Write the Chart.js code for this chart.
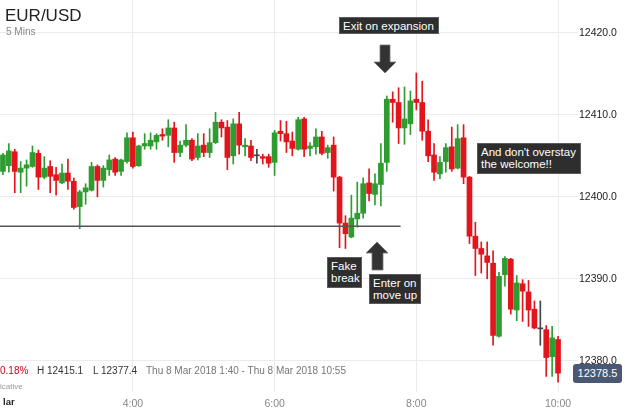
<!DOCTYPE html>
<html>
<head>
<meta charset="utf-8">
<script src="https://cdn.jsdelivr.net/npm/chart.js@4.4.1/dist/chart.umd.min.js"></script>
<style>
body { margin: 0; background: #fff; font-family: "Liberation Sans", Arial, sans-serif; }
#wrap { position: relative; width: 625px; height: 411px; overflow: hidden; }
canvas { position: absolute; left: 0; top: 0; }
.txt { position: absolute; white-space: nowrap; }
.note { position: absolute; background: #2e2e2e; border: 1px solid #5c5c5c; color: #fff; font-size: 11.5px; line-height: 12px; padding: 2px 3px 0 3px; box-sizing: border-box; white-space: nowrap; }
</style>
</head>
<body>
<div id="wrap">
<canvas id="chart" width="625" height="411"></canvas>

<div class="txt" style="left:5px;top:7px;font-size:17px;line-height:17px;color:#222">EUR/USD</div>
<div class="txt" style="left:6px;top:27px;font-size:10px;line-height:10px;color:#888">5 Mins</div>

<div class="txt" style="left:0;top:366px;font-size:10px;line-height:10px;color:#d0021b">0.18%</div>
<div class="txt" style="left:37px;top:366px;font-size:10px;line-height:10px;color:#333">H 12415.1</div>
<div class="txt" style="left:93px;top:366px;font-size:10px;line-height:10px;color:#333">L 12377.4</div>
<div class="txt" style="left:146px;top:366px;font-size:10px;line-height:10px;color:#777">Thu 8 Mar 2018 1:40 - Thu 8 Mar 2018 10:55</div>
<div class="txt" style="left:0;top:383px;font-size:8px;line-height:8px;color:#999">icative</div>
<div class="txt" style="left:3px;top:397px;font-size:9.5px;line-height:10px;color:#222;font-weight:bold">lar</div>

<div class="note" style="left:339px;top:17px;width:100px;height:17px;padding-top:2px">Exit on expansion</div>
<div class="note" style="left:477px;top:143px;width:104px;height:31px">And don't overstay<br>the welcome!!</div>
<div class="note" style="left:327px;top:257px;width:35px;height:31px">Fake<br>break</div>
<div class="note" style="left:369px;top:274px;width:52px;height:30px">Enter on<br>move up</div>

<svg style="position:absolute;left:0;top:0" width="625" height="411">
  <polygon points="380,45 390,45 390,62 396,62 385,73 374,62 380,62" fill="#333" stroke="#777" stroke-width="0.8"/>
  <polygon points="377,242 388,253 383,253 383,270 372,270 372,253 366,253" fill="#333" stroke="#777" stroke-width="0.8"/>
</svg>

<div class="txt" style="left:573px;top:364px;width:49px;height:19px;line-height:19px;background:#4a5873;border-radius:3px;color:#fff;font-size:11px;text-align:center">12378.5</div>
</div>

<script>
// 5 minute candles, 2:10 to 10:00
const timeLabels = [
    "2:10","2:15","2:20","2:25","2:30","2:35","2:40","2:45","2:50","2:55",
    "3:00","3:05","3:10","3:15","3:20","3:25","3:30","3:35","3:40","3:45","3:50","3:55",
    "4:00","4:05","4:10","4:15","4:20","4:25","4:30","4:35","4:40","4:45","4:50","4:55",
    "5:00","5:05","5:10","5:15","5:20","5:25","5:30","5:35","5:40","5:45","5:50","5:55",
    "6:00","6:05","6:10","6:15","6:20","6:25","6:30","6:35","6:40","6:45","6:50","6:55",
    "7:00","7:05","7:10","7:15","7:20","7:25","7:30","7:35","7:40","7:45","7:50","7:55",
    "8:00","8:05","8:10","8:15","8:20","8:25","8:30","8:35","8:40","8:45","8:50","8:55",
    "9:00","9:05","9:10","9:15","9:20","9:25","9:30","9:35","9:40","9:45","9:50","9:55",
    "10:00"
];

const opens = [
    12403.1, 12403.8, 12405.5, 12403.0, 12403.5, 12403.7, 12405.3, 12402.4, 12403.7, 12402.7,
    12401.7, 12402.9, 12401.9, 12398.8, 12400.6, 12400.8, 12403.7, 12402.0, 12403.3, 12404.6,
    12403.1, 12404.3, 12407.2, 12403.8, 12406.2, 12406.2, 12406.7, 12407.6, 12407.5, 12408.4,
    12405.4, 12406.3, 12406.9, 12404.8, 12406.3, 12405.4, 12406.6, 12409.1, 12408.5, 12405.0,
    12408.9, 12406.1, 12406.2, 12405.0, 12404.9, 12404.9, 12404.2, 12408.0, 12407.7, 12406.8,
    12405.8, 12409.5, 12405.9, 12406.1, 12407.3, 12405.4, 12406.3, 12402.4, 12396.8, 12395.1,
    12397.3, 12398.0, 12401.7, 12400.3, 12401.5, 12404.2, 12411.9, 12411.5, 12408.4, 12408.9,
    12411.9, 12411.5, 12408.0, 12405.1, 12402.8, 12404.3, 12406.1, 12403.5, 12407.2, 12402.4,
    12395.2, 12393.7, 12392.8, 12391.9, 12383.0, 12390.5, 12392.4, 12386.2, 12389.4, 12388.4,
    12386.3, 12383.9, 12383.8, 12380.5, 12382.6
];
const highs = [
    12405.3, 12406.5, 12405.8, 12404.3, 12404.5, 12406.2, 12405.7, 12404.9, 12404.4, 12403.6,
    12404.0, 12404.6, 12402.3, 12400.8, 12401.6, 12404.2, 12403.9, 12403.8, 12405.1, 12404.8,
    12404.6, 12407.8, 12407.9, 12406.3, 12407.7, 12407.8, 12407.7, 12408.3, 12409.4, 12409.1,
    12406.8, 12408.8, 12407.1, 12407.7, 12407.7, 12408.3, 12410.3, 12409.4, 12409.3, 12409.5,
    12410.3, 12407.1, 12406.9, 12405.8, 12405.2, 12405.2, 12408.1, 12409.3, 12409.2, 12407.9,
    12409.7, 12409.7, 12406.6, 12408.3, 12408.0, 12406.3, 12407.3, 12402.5, 12397.7, 12400.2,
    12401.8, 12402.3, 12403.4, 12402.8, 12406.5, 12412.3, 12412.8, 12413.3, 12413.4, 12412.9,
    12415.1, 12414.1, 12409.4, 12406.5, 12404.9, 12406.5, 12408.5, 12408.8, 12408.8, 12402.5,
    12396.9, 12394.5, 12394.5, 12393.4, 12390.8, 12392.7, 12392.5, 12390.4, 12389.9, 12389.8,
    12387.3, 12387.3, 12384.3, 12384.2, 12383.0
];
const lows = [
    12402.7, 12403.0, 12400.5, 12400.5, 12401.3, 12403.6, 12400.9, 12402.2, 12400.5, 12400.2,
    12401.6, 12400.9, 12398.5, 12396.1, 12399.1, 12400.7, 12400.0, 12401.2, 12402.6, 12402.6,
    12402.6, 12404.1, 12403.5, 12403.7, 12405.8, 12405.8, 12405.8, 12406.9, 12406.1, 12404.2,
    12404.9, 12406.1, 12404.4, 12404.5, 12404.9, 12404.8, 12406.5, 12407.3, 12403.3, 12404.0,
    12405.2, 12405.0, 12404.4, 12404.1, 12404.0, 12403.6, 12402.6, 12406.8, 12405.4, 12405.0,
    12405.7, 12404.9, 12405.0, 12405.2, 12405.1, 12404.7, 12400.7, 12393.8, 12393.7, 12395.0,
    12396.3, 12397.4, 12399.5, 12399.0, 12398.9, 12403.1, 12409.1, 12406.5, 12406.4, 12407.6,
    12410.6, 12406.9, 12404.3, 12402.0, 12402.2, 12403.0, 12403.1, 12403.4, 12401.6, 12394.3,
    12390.4, 12390.7, 12390.0, 12381.9, 12382.9, 12389.1, 12385.7, 12384.9, 12384.8, 12384.2,
    12383.9, 12381.9, 12378.1, 12378.1, 12377.4
];
const closes = [
    12405.1, 12405.6, 12403.1, 12403.5, 12403.9, 12405.4, 12402.4, 12403.5, 12402.5, 12402.0,
    12402.9, 12401.9, 12398.7, 12400.6, 12401.1, 12403.7, 12402.0, 12403.5, 12404.5, 12403.0,
    12404.5, 12407.2, 12403.7, 12406.2, 12406.5, 12406.9, 12407.5, 12407.4, 12408.4, 12405.4,
    12406.3, 12406.9, 12404.6, 12406.2, 12405.4, 12406.6, 12409.1, 12408.4, 12404.8, 12408.9,
    12406.3, 12406.3, 12404.8, 12405.0, 12404.7, 12404.1, 12407.8, 12407.7, 12406.7, 12405.9,
    12409.4, 12405.8, 12406.2, 12407.3, 12405.3, 12406.0, 12402.4, 12396.8, 12395.5, 12397.4,
    12398.0, 12401.6, 12400.4, 12401.6, 12404.1, 12411.9, 12411.5, 12408.4, 12409.5, 12411.7,
    12411.5, 12408.0, 12405.0, 12403.0, 12404.2, 12406.0, 12403.4, 12407.1, 12402.4, 12395.2,
    12393.7, 12393.0, 12392.0, 12383.1, 12390.3, 12392.5, 12386.3, 12389.5, 12388.5, 12386.2,
    12384.0, 12383.9, 12380.4, 12382.8, 12378.5
];

const xTickLabels = ["4:00", "6:00", "8:00", "10:00"];
const yTickValues = [12380, 12390, 12400, 12410, 12420];
const supportLevel = 12396.4;
const supportEnd = "7:45";

const upColor = "#2e9c31";
const downColor = "#e3151c";
const flatColor = "#444";

const candleColors = opens.map((o, i) => closes[i] > o ? upColor : (closes[i] < o ? downColor : flatColor));

Chart.defaults.font.family = '"Liberation Sans", Arial, sans-serif';

// horizontal support line drawn across the left part of the chart
const supportLine = {
    id: "supportLine",
    afterDatasetsDraw(chart) {
        const { ctx, chartArea, scales } = chart;
        const y = scales.y.getPixelForValue(supportLevel);
        const x2 = scales.x.getPixelForValue(timeLabels.indexOf(supportEnd)) + 2;
        ctx.save();
        ctx.strokeStyle = "#555";
        ctx.lineWidth = 1.5;
        ctx.beginPath();
        ctx.moveTo(chartArea.left, y);
        ctx.lineTo(x2, y);
        ctx.stroke();
        ctx.restore();
    }
};

new Chart(document.getElementById("chart"), {
    type: "bar",
    data: {
        labels: timeLabels,
        datasets: [
            {
                label: "wick",
                data: lows.map((l, i) => [l, highs[i]]),
                backgroundColor: candleColors,
                barThickness: 1,
                grouped: false,
                order: 2
            },
            {
                label: "body",
                data: opens.map((o, i) => [o, closes[i]]),
                backgroundColor: candleColors,
                barThickness: 5,
                minBarLength: 1,
                grouped: false,
                order: 1
            }
        ]
    },
    options: {
        responsive: false,
        animation: false,
        layout: { padding: 0 },
        plugins: {
            legend: { display: false },
            tooltip: { enabled: false }
        },
        scales: {
            x: {
                grid: { color: "#ebebeb", drawTicks: false, offset: false },
                border: { display: false },
                ticks: {
                    autoSkip: false,
                    maxRotation: 0,
                    padding: 6,
                    color: "#888",
                    font: { size: 10.5 },
                    callback: function (v) {
                        const l = this.getLabelForValue(v);
                        return xTickLabels.includes(l) ? l : null;
                    }
                },
                afterFit: s => { s.height = 19; }
            },
            y: {
                position: "right",
                min: 12376.2,
                max: 12424.0,
                afterBuildTicks: s => { s.ticks = yTickValues.map(v => ({ value: v })); },
                grid: { color: "#ebebeb", tickLength: 17 },
                border: { display: false },
                ticks: {
                    padding: 1,
                    color: "#222",
                    font: { size: 10.5 },
                    callback: v => v.toFixed(1)
                },
                afterFit: s => {
                    s.width = 64;
                    s.paddingTop = 0;
                    s.paddingBottom = 0;
                }
            }
        }
    },
    plugins: [supportLine]
});
</script>
</body>
</html>
